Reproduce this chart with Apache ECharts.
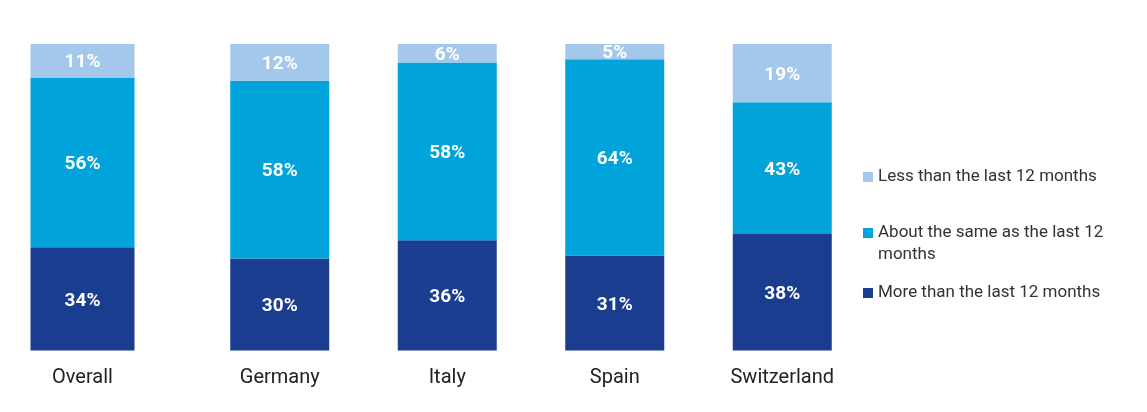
<!DOCTYPE html>
<html>
<head>
<meta charset="utf-8">
<script src="https://cdn.jsdelivr.net/npm/echarts@6/dist/echarts.min.js"></script>
<style>
	html, body { margin: 0; padding: 0; background: #fff; }
	#main { width: 1147px; height: 412px; }
</style>
</head>
<body>
<div id="main"></div>
<script>
// 数据
var overallCat = ['Overall'];
var countryCat = ['Germany', 'Italy', 'Spain', 'Switzerland'];
var seriesNames = ['More than the last 12 months', 'About the same as the last 12 months', 'Less than the last 12 months'];
// 第一行留空，让图标对齐第二行（文字首行）
var legendLabels = ['More than the last 12 months', '\u00a0\nAbout the same as the last 12\nmonths', 'Less than the last 12 months'];
var overallMore = [34];
var overallSame = [56];
var overallLess = [11];
var countryMore = [30, 36, 31, 38];
var countrySame = [58, 58, 64, 43];
var countryLess = [12, 6, 5, 19];

var colorPane = ['#1A3D8F', '#00A4DB', '#A3C8EB'];	// 深、中、浅
var font = 'Roboto, "Noto Sans", sans-serif';

var myChart = echarts.init(document.getElementById('main'));

function barSeries(name, data, idx, grid, width){
	return {
		name: name,
		type: 'bar',
		stack: 'g' + grid,
		xAxisIndex: grid,
		yAxisIndex: grid,
		barWidth: width,
		itemStyle: { color: colorPane[idx] },
		label: {
			show: true,
			position: 'inside',
			offset: [0, 2],
			formatter: '{c}%',
			color: '#fff',
			fontFamily: font,
			fontWeight: 'bold',
			fontSize: 19
		},
		data: data
	};
}

function catAxis(data, grid){
	return {
		type: 'category',
		gridIndex: grid,
		data: data,
		axisLine: { show: false },
		axisTick: { show: false },
		axisLabel: {
			margin: 17,
			color: '#222',
			fontFamily: font,
			fontSize: 20
		}
	};
}

function valAxis(max, grid){
	return {
		type: 'value',
		gridIndex: grid,
		min: 0,
		max: max,
		show: false,
		splitLine: { show: false }
	};
}

function legendOne(i, top){
	return {
		left: 863,
		top: top,
		padding: 0,
		orient: 'vertical',
		itemWidth: 10,
		itemHeight: 10,
		data: [{ name: seriesNames[i], icon: 'rect' }],
		formatter: function(){ return legendLabels[i]; },
		textStyle: {
			color: '#333',
			fontFamily: font,
			fontSize: 17,
			lineHeight: 22
		}
	};
}

var option = {
	animation: false,
	grid: [
		{ left: 0, width: 165, top: 44, bottom: 61.5 },
		{ left: 196, width: 670, top: 44, bottom: 61.5 }
	],
	xAxis: [catAxis(overallCat, 0), catAxis(countryCat, 1)],
	yAxis: [valAxis(101, 0), valAxis(100, 1)],
	legend: [
		legendOne(2, 166),
		legendOne(1, 200),
		legendOne(0, 282)
	],
	series: [
		barSeries(seriesNames[0], overallMore, 0, 0, 104),
		barSeries(seriesNames[1], overallSame, 1, 0, 104),
		barSeries(seriesNames[2], overallLess, 2, 0, 104),
		barSeries(seriesNames[0], countryMore, 0, 1, 99),
		barSeries(seriesNames[1], countrySame, 1, 1, 99),
		barSeries(seriesNames[2], countryLess, 2, 1, 99)
	]
};
myChart.setOption(option);
</script>
</body>
</html>
